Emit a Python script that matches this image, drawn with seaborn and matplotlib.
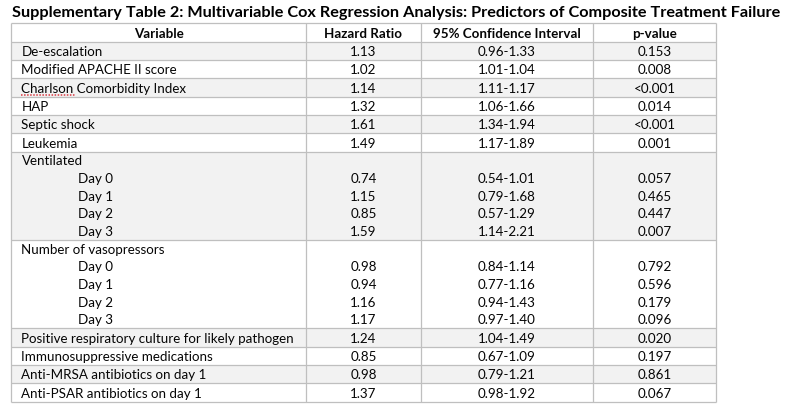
import matplotlib
matplotlib.use("Agg")
import matplotlib.pyplot as plt
import seaborn as sns
import pandas as pd

sns.set_theme(style="white")
plt.rcParams['font.family'] = ['Lato', 'DejaVu Sans']

# table contents
title = "Supplementary Table 2: Multivariable Cox Regression Analysis: Predictors of Composite Treatment Failure"
headers = ["Variable", "Hazard Ratio", "95% Confidence Interval", "p-value"]
variables = ["De-escalation", "Modified APACHE II score", "Charlson Comorbidity Index", "HAP",
             "Septic shock", "Leukemia",
             "Ventilated", "Day 0", "Day 1", "Day 2", "Day 3",
             "Number of vasopressors", "Day 0", "Day 1", "Day 2", "Day 3",
             "Positive respiratory culture for likely pathogen", "Immunosuppressive medications",
             "Anti-MRSA antibiotics on day 1", "Anti-PSAR antibiotics on day 1"]
hazard_ratios = ["1.13", "1.02", "1.14", "1.32", "1.61", "1.49",
                 "", "0.74", "1.15", "0.85", "1.59",
                 "", "0.98", "0.94", "1.16", "1.17",
                 "1.24", "0.85", "0.98", "1.37"]
conf_intervals = ["0.96-1.33", "1.01-1.04", "1.11-1.17", "1.06-1.66", "1.34-1.94", "1.17-1.89",
                  "", "0.54-1.01", "0.79-1.68", "0.57-1.29", "1.14-2.21",
                  "", "0.84-1.14", "0.77-1.16", "0.94-1.43", "0.97-1.40",
                  "1.04-1.49", "0.67-1.09", "0.79-1.21", "0.98-1.92"]
p_values = ["0.153", "0.008", "<0.001", "0.014", "<0.001", "0.001",
            "", "0.057", "0.465", "0.447", "0.007",
            "", "0.792", "0.596", "0.179", "0.096",
            "0.020", "0.197", "0.861", "0.067"]
indented = [False] * 7 + [True] * 4 + [False] + [True] * 4 + [False] * 4
groups = [0, 1, 2, 3, 4, 5, 6, 6, 6, 6, 6, 7, 7, 7, 7, 7, 8, 9, 10, 11]

df = pd.DataFrame({"Variable": variables, "Hazard Ratio": hazard_ratios,
                   "95% Confidence Interval": conf_intervals, "p-value": p_values,
                   "indent": indented, "group": groups})

# layout (pixels)
x_edges = [11, 306, 421, 593, 716]
top = 23.3
header_h = 18.4
single_h = 18.35
sub_h = 17.66
line_col = "#bfbfbf"
shade_col = "#f2f2f2"
text_col = "#050505"

fig = plt.figure(figsize=(7.97, 4.12), dpi=100)
ax = fig.add_axes([0, 0, 1, 1])
ax.set_xlim(0, 797)
ax.set_ylim(412, 0)
ax.axis("off")
renderer = fig.canvas.get_renderer()


def fit_size(text, weight, target, start=10.0):
    t = ax.text(0, 0, text, fontsize=start, fontweight=weight)
    w = t.get_window_extent(renderer).width
    t.remove()
    return start * target / w


body_fs = fit_size("Positive respiratory culture for likely pathogen", "normal", 272)
title_fs = fit_size(title, "bold", 770)

ax.text(12, 17.3, title, fontsize=title_fs, fontweight="bold", color="black",
        ha="left", va="baseline")

# row positions
bottoms = []
group_bounds = []
y = top + header_h
for g, sub in df.groupby("group", sort=True):
    h = single_h if len(sub) == 1 else sub_h
    start = y
    for _ in range(len(sub)):
        y += h
        bottoms.append(y)
    group_bounds.append((g, start, y))
table_bottom = y

# shading
for g, y0, y1 in group_bounds:
    if g % 2 == 0:
        ax.fill_between([x_edges[0], x_edges[-1]], y0, y1, color=shade_col, lw=0, zorder=0)

# grid lines
hlines = [top, top + header_h] + [b for _, _, b in group_bounds]
ax.hlines(hlines, x_edges[0], x_edges[-1], color=line_col, lw=0.9, zorder=1)
ax.vlines(x_edges, top, table_bottom, color=line_col, lw=0.9, zorder=1)

centers = [(x_edges[i] + x_edges[i + 1]) / 2 for i in range(4)]

# header
for c, h in zip(centers, headers):
    ax.text(c, top + header_h - 4, h, fontsize=body_fs, fontweight="bold",
            color=text_col, ha="center", va="baseline")

# body
for i, row in df.iterrows():
    base = bottoms[i] - 4
    x_lab = 78.5 if row["indent"] else 21.5
    ax.text(x_lab, base, row["Variable"], fontsize=body_fs, color=text_col,
            ha="left", va="baseline")
    for c, col in zip(centers[1:], headers[1:]):
        ax.text(c, base, row[col], fontsize=body_fs, color=text_col,
                ha="center", va="baseline")
    if row["Variable"].startswith("Charlson"):
        w = ax.text(x_lab, base, "Charlson", fontsize=body_fs, alpha=0)
        bb = w.get_window_extent(renderer).transformed(ax.transData.inverted())
        ax.plot([bb.x0, bb.x1 + 1], [base + 2.5, base + 2.5], color="#d9363e",
                lw=1.1, ls=(0, (1, 1)))

fig.savefig("out.png", dpi=100)
